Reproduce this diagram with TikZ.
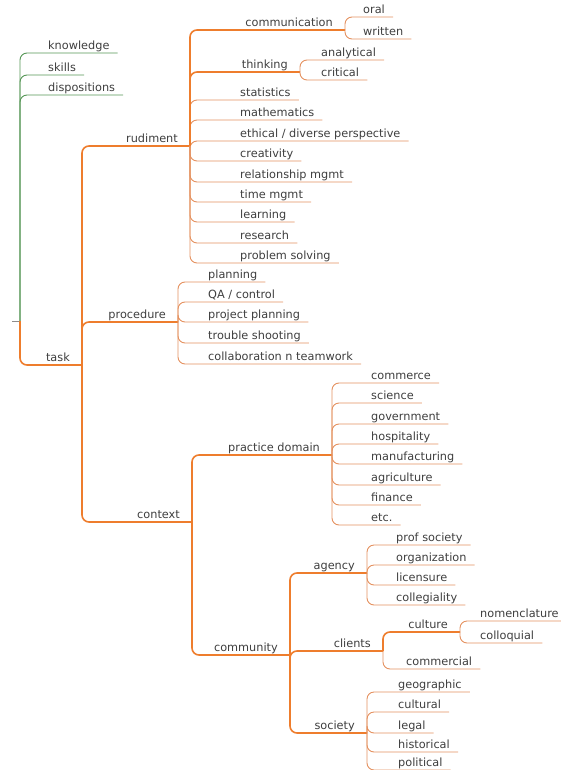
\documentclass[tikz,border=0pt]{standalone}
\usepackage{fontspec}
\setmainfont{DejaVu Sans}
\usepackage{tikz}
\usetikzlibrary{positioning}
\usepackage{xcolor}
\definecolor{branchc}{RGB}{238,125,45}
\definecolor{leafc}{RGB}{228,145,95}
\definecolor{skillc}{RGB}{85,150,85}
\definecolor{txtc}{RGB}{62,62,62}
\tikzset{
  txt/.style={inner ysep=1pt,text height=7.5pt,text depth=2.3pt,font=\fontsize{11.3}{13}\selectfont,text=txtc},
  lf/.style={txt,anchor=south west,inner xsep=8pt,xshift=-3pt},
  fk/.style={txt,anchor=south east,inner xsep=12pt},
  br/.style={rounded corners=7pt,line width=1.6pt,branchc},
  tw/.style={rounded corners=7pt,line width=0.9pt,leafc},
  gr/.style={rounded corners=7pt,line width=0.9pt,skillc},
}
\begin{document}
\begin{tikzpicture}[x=1pt,y=-1pt]
  \useasboundingbox (0,0) rectangle (560,770);
  \coordinate (stub) at (12,321); \coordinate (root) at (20,321);
  % green branch
  \node[lf](knowledge) at (43,53){knowledge};
  \node[lf](skills) at (43,75){skills};
  \node[lf](dispositions) at (43,95){dispositions};
  % forks
  \node[fk](task) at (82,365){task};
  \node[fk](rudiment) at (190,146){rudiment};
  \node[fk](procedure) at (178,322){procedure};
  \node[fk](context) at (192,522){context};
  \node[fk](communication) at (345,30){communication};
  \node[fk](thinking) at (300,72){thinking};
  \node[fk](practice) at (332,455){practice domain};
  \node[fk](community) at (290,655){community};
  \node[fk](agency) at (367,573){agency};
  \node[fk](clients) at (383,651){clients};
  \node[fk](society) at (367,733){society};
  \node[fk](culture) at (460,632){culture};
  % rudiment
  \node[lf](oral) at (358,17){oral}; \node[lf](written) at (358,39){written};
  \node[lf](analytical) at (316,60){analytical}; \node[lf](critical) at (316,80){critical};
  \node[lf](statistics) at (235,100){statistics};
  \node[lf](mathematics) at (235,120){mathematics};
  \node[lf](ethical) at (235,141){ethical / diverse perspective};
  \node[lf](creativity) at (235,161){creativity};
  \node[lf](relationship) at (235,182){relationship mgmt};
  \node[lf](timemgmt) at (235,202){time mgmt};
  \node[lf](learning) at (235,222){learning};
  \node[lf](research) at (235,243){research};
  \node[lf](problem) at (235,263){problem solving};
  % procedure
  \node[lf](planning) at (203,282){planning};
  \node[lf](qa) at (203,302){QA / control};
  \node[lf](projplan) at (203,322){project planning};
  \node[lf](trouble) at (203,343){trouble shooting};
  \node[lf](collab) at (203,364){collaboration n teamwork};
  % practice domain
  \node[lf](commerce) at (366,383){commerce};
  \node[lf](science) at (366,403){science};
  \node[lf](government) at (366,424){government};
  \node[lf](hospitality) at (366,444){hospitality};
  \node[lf](manufacturing) at (366,464){manufacturing};
  \node[lf](agriculture) at (366,485){agriculture};
  \node[lf](finance) at (366,505){finance};
  \node[lf](etc) at (366,525){etc.};
  % community
  \node[lf](profsociety) at (391,545){prof society};
  \node[lf](organization) at (391,565){organization};
  \node[lf](licensure) at (391,585){licensure};
  \node[lf](collegiality) at (391,605){collegiality};
  \node[lf](nomenclature) at (475,621){nomenclature};
  \node[lf](colloquial) at (475,643){colloquial};
  \node[lf](commercial) at (401,669){commercial};
  \node[lf](geographic) at (393,692){geographic};
  \node[lf](cultural) at (393,712){cultural};
  \node[lf](legal) at (393,733){legal};
  \node[lf](historical) at (393,752){historical};
  \node[lf](political) at (393,770){political};
  % connectors
  \draw[black!45,line width=1pt] (stub)--(root);
  \foreach \c in {knowledge,skills,dispositions} {\draw[gr] (root) |- (\c.south east);}
  \draw[br] (root) |- (task.south east);
  \foreach \c in {rudiment,procedure,context} {\draw[br] (task.south east) |- (\c.south east);}
  \foreach \c in {statistics,mathematics,ethical,creativity,relationship,timemgmt,learning,research,problem}
    {\draw[tw] (rudiment.south east) |- (\c.south east);}
  \foreach \c in {communication,thinking} {\draw[br] (rudiment.south east) |- (\c.south east);}
  \foreach \c in {oral,written} {\draw[tw] (communication.south east) |- (\c.south east);}
  \foreach \c in {analytical,critical} {\draw[tw] (thinking.south east) |- (\c.south east);}
  \foreach \c in {planning,qa,projplan,trouble,collab} {\draw[tw] (procedure.south east) |- (\c.south east);}
  \foreach \c in {practice,community} {\draw[br] (context.south east) |- (\c.south east);}
  \foreach \c in {commerce,science,government,hospitality,manufacturing,agriculture,finance,etc}
    {\draw[tw] (practice.south east) |- (\c.south east);}
  \foreach \c in {agency,clients,society} {\draw[br] (community.south east) |- (\c.south east);}
  \foreach \c in {profsociety,organization,licensure,collegiality} {\draw[tw] (agency.south east) |- (\c.south east);}
  \draw[br] (clients.south east) |- (culture.south east);
  \draw[tw] (clients.south east) |- (commercial.south east);
  \foreach \c in {nomenclature,colloquial} {\draw[tw] (culture.south east) |- (\c.south east);}
  \foreach \c in {geographic,cultural,legal,historical,political} {\draw[tw] (society.south east) |- (\c.south east);}
\end{tikzpicture}
\end{document}
